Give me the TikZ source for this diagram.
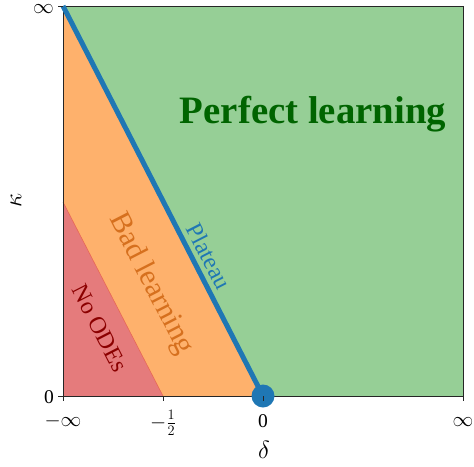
\documentclass[tikz,border=0pt]{standalone}
\usepackage{fontspec}
\setmainfont{Liberation Serif}
\definecolor{pgreen}{RGB}{150,207,150}
\definecolor{porange}{RGB}{254,177,108}
\definecolor{pred}{RGB}{229,123,124}
\definecolor{redge}{RGB}{232,105,85}
\definecolor{pblue}{RGB}{31,119,180}
\definecolor{tgreen}{RGB}{0,100,0}
\definecolor{torange}{RGB}{214,112,30}
\definecolor{tred}{RGB}{139,0,0}
\begin{document}
\begin{tikzpicture}[x=1pt,y=-1pt,
  frame/.style={draw=black!85,line width=1pt},
  tickline/.style={draw=black!85,line width=1pt},
  ticklab/.style={font=\fontsize{19.5}{21}\selectfont,inner sep=0pt},
  axlab/.style={font=\fontsize{31}{33}\selectfont,inner sep=0pt},
  region/.style={font=\fontsize{#1}{#1}\selectfont,inner sep=0pt,rotate=-62.85}]
\useasboundingbox (0,0) rectangle (474,466);
\coordinate (TL) at (63,6);
\coordinate (TR) at (463,6);
\coordinate (BR) at (463,396);
\coordinate (BL) at (63,396);
\coordinate (Z) at (263,396);
\coordinate (H) at (163,396);
\coordinate (R) at (63,202);
\fill[pgreen] (TL) rectangle (BR);
\fill[porange] (TL) -- (Z) -- (BL) -- cycle;
\fill[pred] (R) -- (H) -- (BL) -- cycle;
\draw[redge,line width=0.6pt] (R) -- (H);
\draw[frame] (TL) rectangle (BR);
\draw[pblue,line width=5pt] (TL) -- (Z);
\node[circle,fill=pblue,minimum size=23pt,inner sep=0pt] (dot) at (Z) {};
% ticks
\foreach \x/\n in {63/a,163/b,263/c,463/d}{
  \coordinate (bt\n) at (\x,396);
  \coordinate (be\n) at (\x,401);
  \draw[tickline] (bt\n) -- (be\n);
}
\coordinate (lt1) at (63,6); \coordinate (le1) at (58,6);
\coordinate (lt2) at (63,396); \coordinate (le2) at (58,396);
\draw[tickline] (lt1) -- (le1);
\draw[tickline] (lt2) -- (le2);
% tick labels
\node[ticklab,anchor=east] (ytop) at (54,9) {$\infty$};
\node[ticklab,anchor=east] (ybot) at (54,397) {0};
\node[ticklab,anchor=base] (xa) at (63,426) {$-\infty$};
\node[ticklab,anchor=base] (xb) at (163,428) {$-\frac{1}{2}$};
\node[ticklab,anchor=base] (xc) at (263,427) {0};
\node[ticklab,anchor=base] (xd) at (463,426) {$\infty$};
% axis labels
\node[axlab] (delta) at (264,450) {$\delta$};
\node[axlab,rotate=90] (kappa) at (16,200) {$\kappa$};
% region labels
\node[font=\fontsize{38.8}{40}\selectfont\bfseries,text=tgreen,anchor=base,inner sep=0pt] (perfect) at (313,123) {Perfect learning};
\node[region=24,text=pblue] (plateau) at (209,256) {Plateau};
\node[region=30,text=torange] (bad) at (151,284) {Bad learning};
\node[region=24,text=tred] (noodes) at (100,328) {No ODEs};
\end{tikzpicture}
\end{document}
